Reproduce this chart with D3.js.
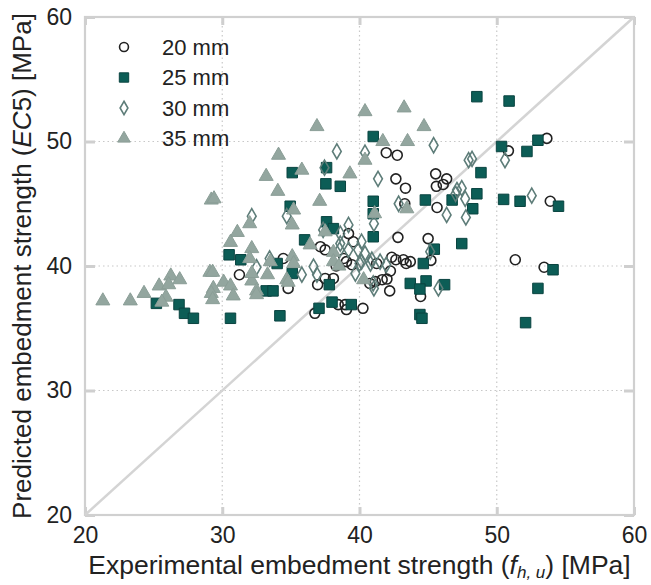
<!DOCTYPE html>
<html>
<head>
<meta charset="utf-8">
<script src="https://cdn.jsdelivr.net/npm/d3@7"></script>
<style>
  body { margin: 0; background: #fff; }
  svg { font-family: "Liberation Sans", Arial, Helvetica, sans-serif; }
  .grid line { stroke: #c8c8c8; stroke-dasharray: 1.5, 3; stroke-width: 1.2; }
  .tick-mark line { stroke: #cfcfcf; stroke-width: 3; }
  .tick-mark path { display: none; }
  .tick-mark text { font-size: 23px; fill: #222; }
</style>
</head>
<body>
<svg width="651" height="585"></svg>
<script>
"use strict";

// tick values (same on both axes)
var ticks = [20, 30, 40, 50, 60];
var seriesNames = ["20 mm", "25 mm", "30 mm", "35 mm"];

// [experimental, predicted] pairs per diameter
var d20 = [[31.25,39.3],[34.45,40.6],[34.8,38.2],[39.2,42.6],[39.55,41.95],[37.15,41.55],[37.5,41.3],
  [38.85,40.6],[39.05,40.35],[39.45,40.1],[38.3,40.0],[37.5,39.0],[38.1,39.0],[38.45,36.9],[38.95,36.9],
  [41.25,40.2],[41.15,38.75],[40.75,38.6],[36.95,38.5],[39.05,36.5],[36.75,36.2],[40.25,36.6],
  [42.8,42.3],[42.25,39.6],[42.35,40.7],[42.65,40.5],[43.2,40.5],[43.7,40.35],[43.4,40.2],[41.65,38.9],
  [42.0,38.95],[42.2,38.0],[45.0,42.2],[45.2,40.45],[44.45,37.55],[43.3,45.0],[45.65,44.7],
  [41.95,49.1],[42.75,48.9],[42.65,47.0],[43.35,46.25],[45.55,47.4],[46.35,47.0],[46.1,46.55],
  [45.6,46.4],[53.65,50.25],[50.85,49.25],[53.9,45.2],[51.35,40.5],[53.45,39.9]];

var d25 = [[25.2,37.0],[26.85,36.9],[27.25,36.2],[27.9,35.8],[30.6,35.8],[30.5,40.9],[31.35,40.5],
  [33.2,38.0],[33.7,38.0],[34.0,40.2],[34.2,36.0],[34.95,44.8],[37.6,43.55],[38.1,43.0],[36.0,42.1],
  [35.1,39.4],[41.0,45.2],[41.0,44.2],[41.0,42.35],[37.8,38.5],[38.0,37.1],[39.4,36.9],[37.05,36.6],
  [44.65,40.2],[45.45,41.35],[47.45,41.8],[43.7,38.6],[44.85,38.8],[44.4,38.15],[46.2,38.5],
  [44.4,36.1],[44.55,35.8],[41.0,50.4],[35.1,47.5],[37.6,47.9],[37.55,46.6],[38.6,46.4],[44.8,45.3],
  [46.75,45.3],[48.55,53.6],[50.9,53.25],[53.0,50.1],[50.35,49.6],[52.2,49.2],[48.85,47.5],
  [48.55,45.8],[48.25,44.6],[50.5,45.35],[51.7,45.2],[54.5,44.8],[54.1,39.7],[53.0,38.2],[52.1,35.45]];

var d30 = [[38.35,49.2],[40.4,49.1],[45.4,49.7],[41.35,47.0],[34.7,44.0],[37.45,47.9],[42.85,45.0],
  [46.35,44.1],[47.75,43.9],[47.1,46.1],[47.45,46.25],[47.7,45.4],[41.05,43.4],[39.2,43.3],[47.95,48.5],
  [32.15,44.0],[33.45,40.6],[37.35,42.9],[38.6,42.6],[38.6,41.8],[38.55,41.3],[39.2,41.3],[40.15,41.95],
  [39.9,41.3],[40.4,41.0],[40.15,40.35],[40.9,40.5],[36.65,39.95],[35.8,39.3],[36.9,39.3],[39.7,39.4],
  [41.0,38.6],[40.8,40.2],[41.95,40.1],[45.75,38.2],[45.15,41.15],[41.5,40.35],[41.05,38.2],
  [48.2,48.6],[50.6,48.5],[47.0,45.8],[52.55,45.65],[32.5,39.9],[40.0,40.2]];

var d35 = [[21.3,37.2],[23.3,37.2],[24.3,37.8],[25.4,38.4],[26.25,39.2],[26.9,38.9],[26.1,38.5],
  [25.9,37.5],[25.6,37.1],[29.1,39.5],[29.3,39.5],[30.1,38.7],[30.6,38.4],[29.35,38.2],[29.2,37.8],
  [29.3,37.3],[30.8,37.6],[32.15,38.8],[32.15,39.4],[33.3,39.3],[32.5,38.0],[32.5,37.7],[34.1,48.9],
  [33.2,47.2],[34.05,46.0],[29.2,45.3],[29.4,45.4],[32.0,43.4],[31.1,42.7],[30.6,41.9],[32.15,41.4],
  [32.0,40.6],[33.5,40.35],[34.7,38.9],[34.8,38.7],[35.1,40.75],[35.2,40.2],[37.1,45.2],[35.2,44.5],
  [35.1,43.3],[37.5,42.75],[38.1,41.1],[38.1,40.35],[38.5,40.0],[40.3,38.9],[36.9,51.2],[40.4,52.4],
  [43.25,52.7],[44.7,51.2],[41.7,50.0],[43.5,50.0],[35.8,47.7],[39.3,47.4],[40.4,48.5],[41.1,44.2],
  [43.45,44.6],[36.4,41.7]];

const svg = d3.select('svg');
const pLeft = 85, pRight = 634, pTop = 17, pBottom = 515;

const x = d3.scaleLinear().domain([20, 60]).range([pLeft, pRight]);
const y = d3.scaleLinear().domain([20, 60]).range([pBottom, pTop]);

// dotted grid
const grid = svg.append('g').attr('class', 'grid');
grid.selectAll('.gx').data(ticks.slice(1, -1)).enter().append('line')
    .attr('x1', d => x(d)).attr('x2', d => x(d))
    .attr('y1', pTop).attr('y2', pBottom);
grid.selectAll('.gy').data(ticks.slice(1, -1)).enter().append('line')
    .attr('y1', d => y(d)).attr('y2', d => y(d))
    .attr('x1', pLeft).attr('x2', pRight);

// tick marks on all four sides (inward)
svg.append('g').attr('class', 'tick-mark')
    .attr('transform', `translate(0, ${pBottom})`)
    .call(d3.axisBottom(x).tickValues(ticks).tickSize(-8).tickPadding(12))
    .selectAll('text').attr('dy', '0.71em');
svg.append('g').attr('class', 'tick-mark')
    .attr('transform', `translate(0, ${pTop})`)
    .call(d3.axisTop(x).tickValues(ticks).tickSize(-8).tickFormat(''));
svg.append('g').attr('class', 'tick-mark')
    .attr('transform', `translate(${pLeft}, 0)`)
    .call(d3.axisLeft(y).tickValues(ticks).tickSize(-10).tickPadding(13));
svg.append('g').attr('class', 'tick-mark')
    .attr('transform', `translate(${pRight}, 0)`)
    .call(d3.axisRight(y).tickValues(ticks).tickSize(-10).tickFormat(''));

// frame
svg.append('rect')
    .attr('x', pLeft).attr('y', pTop)
    .attr('width', pRight - pLeft).attr('height', pBottom - pTop)
    .attr('fill', 'none').attr('stroke', '#d0d0d0').attr('stroke-width', 2.2);

// 1:1 line
svg.append('line')
    .attr('x1', x(20)).attr('y1', y(20))
    .attr('x2', x(60)).attr('y2', y(60))
    .attr('stroke', '#d4d4d4').attr('stroke-width', 2.5);

const styles = [
    { type: d3.symbolCircle, size: 78, fill: 'none', stroke: '#222', sw: 1.6 },
    { type: d3.symbolSquare, size: 110, fill: '#0c5d56', stroke: '#0a4440', sw: 1 },
    { type: d3.symbolDiamond, size: 66, fill: 'none', stroke: '#5e7d79', sw: 1.6 },
    { type: d3.symbolTriangle, size: 85, fill: '#93a69f', stroke: '#8b9e97', sw: 1 }
];
const allData = [d20, d25, d30, d35];

allData.forEach(function (data, i) {
    const s = styles[i];
    svg.append('g').selectAll('path')
        .data(data)
        .enter()
        .append('path')
        .attr('transform', d => `translate(${x(d[0])}, ${y(d[1])})`)
        .attr('d', d3.symbol().type(s.type).size(s.size))
        .attr('fill', s.fill)
        .attr('stroke', s.stroke)
        .attr('stroke-width', s.sw);
});

// legend
const legend = svg.append('g');
seriesNames.forEach(function (name, i) {
    const s = styles[i];
    const ly = 47 + i * 30.5;
    legend.append('path')
        .attr('transform', `translate(124, ${ly})`)
        .attr('d', d3.symbol().type(s.type).size(s.size * 0.8))
        .attr('fill', s.fill)
        .attr('stroke', s.stroke)
        .attr('stroke-width', s.sw);
    legend.append('text')
        .attr('x', 162).attr('y', ly)
        .attr('dy', '0.35em')
        .attr('font-size', 22)
        .attr('fill', '#222')
        .text(name);
});

// axis titles
const xt = svg.append('text')
    .attr('x', (pLeft + pRight) / 2).attr('y', 574)
    .attr('text-anchor', 'middle')
    .attr('font-size', 26.5)
    .attr('fill', '#222');
xt.append('tspan').text('Experimental embedment strength (');
xt.append('tspan').attr('font-style', 'italic').text('f');
xt.append('tspan').attr('font-style', 'italic').attr('font-size', 17).attr('dy', 4).text('h, u');
xt.append('tspan').attr('dy', -4).text(') [MPa]');

const yt = svg.append('text')
    .attr('transform', `translate(31, ${(pTop + pBottom) / 2}) rotate(-90)`)
    .attr('text-anchor', 'middle')
    .attr('font-size', 26)
    .attr('fill', '#222');
yt.append('tspan').text('Predicted embedment strength (');
yt.append('tspan').attr('font-style', 'italic').text('EC');
yt.append('tspan').text('5) [MPa]');
</script>
</body>
</html>
